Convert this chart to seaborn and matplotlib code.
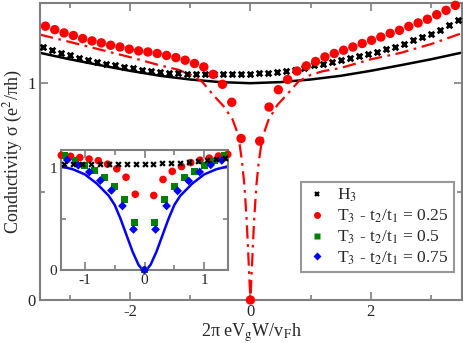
import numpy as np
import pandas as pd
import seaborn as sns
import matplotlib.pyplot as plt
from matplotlib.lines import Line2D
from matplotlib.ticker import MultipleLocator

# H3 data (black crosses)
h3_x = [-3.45, -3.30, -3.15, -3.00, -2.85, -2.70, -2.55, -2.40, -2.25, -2.10, -1.95, -1.80,
        -1.65, -1.50, -1.35, -1.20, -1.05, -0.90, -0.75, -0.60, -0.45, -0.30, -0.15, 0.00,
        0.15, 0.30, 0.45, 0.60, 0.75, 0.90, 1.05, 1.20, 1.35, 1.50, 1.65, 1.80,
        1.95, 2.10, 2.25, 2.40, 2.55, 2.70, 2.85, 3.00, 3.15, 3.30, 3.45]
h3_y = [1.167, 1.152, 1.140, 1.129, 1.118, 1.106, 1.097, 1.088, 1.082, 1.075, 1.068, 1.063,
        1.057, 1.052, 1.047, 1.045, 1.042, 1.041, 1.041, 1.041, 1.042, 1.043, 1.044, 1.044,
        1.045, 1.048, 1.052, 1.056, 1.063, 1.072, 1.082, 1.090, 1.097, 1.106, 1.114, 1.124,
        1.134, 1.144, 1.157, 1.169, 1.183, 1.197, 1.212, 1.228, 1.247, 1.267, 1.290]

# T3, t2/t1 = 0.25 (red circles)
t25_x = [-3.41, -3.255, -3.10, -2.945, -2.79, -2.635, -2.48, -2.325, -2.17, -2.015, -1.86,
         -1.705, -1.55, -1.395, -1.24, -1.085, -0.93, -0.775, -0.62, -0.465, -0.31, -0.155,
         0.0, 0.155, 0.31, 0.465, 0.62, 0.775, 0.93, 1.085, 1.24, 1.395, 1.55, 1.705,
         1.86, 2.015, 2.17, 2.325, 2.48, 2.635, 2.79, 2.945, 3.10, 3.255, 3.41]
t25_y = [1.263, 1.247, 1.232, 1.220, 1.206, 1.195, 1.186, 1.175, 1.167, 1.157, 1.149,
         1.144, 1.137, 1.128, 1.118, 1.106, 1.091, 1.075, 1.041, 0.995, 0.912, 0.745,
         0.0, 0.733, 0.890, 0.970, 1.017, 1.056, 1.080, 1.100, 1.121, 1.137, 1.152, 1.167,
         1.183, 1.198, 1.213, 1.230, 1.244, 1.262, 1.278, 1.295, 1.316, 1.336, 1.359]

# T3, t2/t1 = 0.5 (green squares, inset)
t50_x = [-1.333, -1.167, -1.0, -0.833, -0.667, -0.5, -0.333, -0.167, 0.0,
         0.167, 0.333, 0.5, 0.667, 0.833, 1.0, 1.167, 1.333]
t50_y = [1.124, 1.075, 1.030, 0.975, 0.912, 0.822, 0.690, 0.470, 0.0,
         0.470, 0.690, 0.820, 0.908, 0.972, 1.026, 1.072, 1.122]

# T3, t2/t1 = 0.75 (blue diamonds, inset)
t75_x = [-1.295, -1.11, -0.925, -0.74, -0.555, -0.37, -0.185, 0.0,
         0.185, 0.37, 0.555, 0.74, 0.925, 1.11, 1.295]
t75_y = [1.082, 1.030, 0.964, 0.880, 0.782, 0.630, 0.399, 0.0,
         0.399, 0.630, 0.778, 0.876, 0.964, 1.034, 1.078]

# theory curves
h3_line_x = [-3.5, -3.0, -2.5, -2.0, -1.5, -1.0, -0.5, 0.0, 0.5, 1.0, 1.5, 2.0, 2.5, 3.0, 3.5]
h3_line_y = [1.140, 1.110, 1.083, 1.057, 1.034, 1.017, 1.005, 1.000, 1.005, 1.017, 1.034,
             1.057, 1.083, 1.110, 1.140]

t25_line_x = [-3.5, -3.0, -2.5, -2.0, -1.5, -1.2, -1.0, -0.8, -0.6, -0.45, -0.3, -0.2,
              -0.14, -0.1, -0.06, -0.03, 0.0, 0.03, 0.06, 0.1, 0.14, 0.2, 0.3, 0.45,
              0.6, 0.8, 1.0, 1.2, 1.5, 2.0, 2.5, 3.0, 3.5]
t25_line_y = [1.224, 1.190, 1.155, 1.120, 1.082, 1.062, 1.040, 1.006, 0.940, 0.895, 0.835,
              0.760, 0.640, 0.530, 0.360, 0.180, 0.0, 0.180, 0.360, 0.530, 0.640, 0.750,
              0.830, 0.900, 0.945, 1.008, 1.038, 1.055, 1.070, 1.110, 1.140, 1.180, 1.229]

t75_line_x = [-1.4, -1.2, -1.0, -0.8, -0.6, -0.5, -0.4, -0.3, -0.2, -0.1, -0.05, 0.0,
              0.05, 0.1, 0.2, 0.3, 0.4, 0.5, 0.6, 0.8, 1.0, 1.2, 1.4]
t75_line_y = [1.02, 0.99, 0.94, 0.85, 0.73, 0.64, 0.50, 0.34, 0.18, 0.05, 0.015, 0.0,
              0.015, 0.05, 0.18, 0.34, 0.50, 0.64, 0.73, 0.85, 0.94, 0.99, 1.02]

sns.set_theme(style='ticks')
plt.rcParams['font.family'] = ['Liberation Serif', 'DejaVu Serif']
plt.rcParams['mathtext.fontset'] = 'stix'
plt.rcParams['axes.unicode_minus'] = False

spine_gray = '#7f7f7f'
dashdot = (0, (6, 2.5, 1.2, 2.5))

def style_axes(ax, size):
    for s in ax.spines.values():
        s.set_color(spine_gray)
        s.set_linewidth(1.5)
    ax.tick_params(which='both', direction='in', top=True, right=True,
                   color=spine_gray, labelsize=size, width=1.2, pad=3)
    ax.tick_params(which='major', length=6)
    ax.tick_params(which='minor', length=3.5)

fig = plt.figure(figsize=(4.63, 3.43), dpi=100)
ax = fig.add_axes([0.0864, 0.1254, 0.9114, 0.8659])

sns.lineplot(x=h3_line_x, y=h3_line_y, ax=ax, color='black', lw=1.8, sort=False)
sns.lineplot(x=t25_line_x, y=t25_line_y, ax=ax, color='red', lw=1.6, sort=False,
             linestyle=dashdot)
sns.scatterplot(x=h3_x, y=h3_y, ax=ax, marker='x', color='black', s=16, linewidth=2,
                zorder=3)
sns.scatterplot(x=t25_x, y=t25_y, ax=ax, marker='o', color='red', s=46, edgecolor='none',
                zorder=4, clip_on=False)

ax.set_xlim(-3.5, 3.52)
ax.set_ylim(0, 1.37)
ax.xaxis.set_major_locator(MultipleLocator(2))
ax.xaxis.set_minor_locator(MultipleLocator(1))
ax.yaxis.set_major_locator(MultipleLocator(1))
ax.yaxis.set_minor_locator(MultipleLocator(0.5))
style_axes(ax, 12)
ax.set_xlabel('2π eV$_\\mathrm{g}$W/v$_\\mathrm{F}$h', fontsize=13, labelpad=1)
ax.set_ylabel('Conductivity σ (e$^2$/πh)', fontsize=13, labelpad=2)

handles = [
    Line2D([], [], ls='none', marker='x', color='black', ms=3.5, mew=1.6),
    Line2D([], [], ls='none', marker='o', color='red', ms=5, mec='none'),
    Line2D([], [], ls='none', marker='s', color='green', ms=4.5, mec='none'),
    Line2D([], [], ls='none', marker='D', color='blue', ms=4, mec='none'),
]
labels = [r'H$_3$', r'T$_3$ - t$_2$/t$_1$ = 0.25', r'T$_3$ - t$_2$/t$_1$ = 0.5',
          r'T$_3$ - t$_2$/t$_1$ = 0.75']
leg = ax.legend(handles, labels, loc='lower right', bbox_to_anchor=(0.981, 0.094),
                fontsize=12.5, frameon=True, fancybox=False, handlelength=1.2,
                handletextpad=0.6, borderpad=0.3, labelspacing=0.2, borderaxespad=0)
leg.get_frame().set_edgecolor(spine_gray)
leg.get_frame().set_linewidth(1.5)

# inset
ins = fig.add_axes([0.1318, 0.2128, 0.3607, 0.3499])
ins.set_facecolor('white')
sns.lineplot(x=t75_line_x, y=t75_line_y, ax=ins, color='blue', lw=1.8, sort=False)

inset_h3 = pd.DataFrame({'x': h3_x, 'y': h3_y})
inset_h3 = inset_h3[inset_h3['x'].abs() <= 1.4]
inset_t25 = pd.DataFrame({'x': t25_x, 'y': t25_y})
inset_t25 = inset_t25[inset_t25['x'].abs() <= 1.4]

sns.scatterplot(data=inset_t25, x='x', y='y', ax=ins, marker='o', color='red', s=30,
                edgecolor='none', zorder=3, clip_on=False)
sns.scatterplot(x=t50_x, y=t50_y, ax=ins, marker='s', color='green', s=24,
                edgecolor='none', zorder=4, clip_on=False)
sns.scatterplot(x=t75_x, y=t75_y, ax=ins, marker='D', color='blue', s=20,
                edgecolor='none', zorder=5, clip_on=False)
sns.scatterplot(data=inset_h3, x='x', y='y', ax=ins, marker='x', color='black', s=12,
                linewidth=1.6, zorder=6)

ins.set_xlim(-1.4, 1.4)
ins.set_ylim(0, 1.18)
ins.xaxis.set_major_locator(MultipleLocator(1))
ins.xaxis.set_minor_locator(MultipleLocator(0.5))
ins.yaxis.set_major_locator(MultipleLocator(1))
ins.yaxis.set_minor_locator(MultipleLocator(0.5))
style_axes(ins, 11)
ins.set_xlabel('')
ins.set_ylabel('')

fig.savefig('out.png', dpi=100)
